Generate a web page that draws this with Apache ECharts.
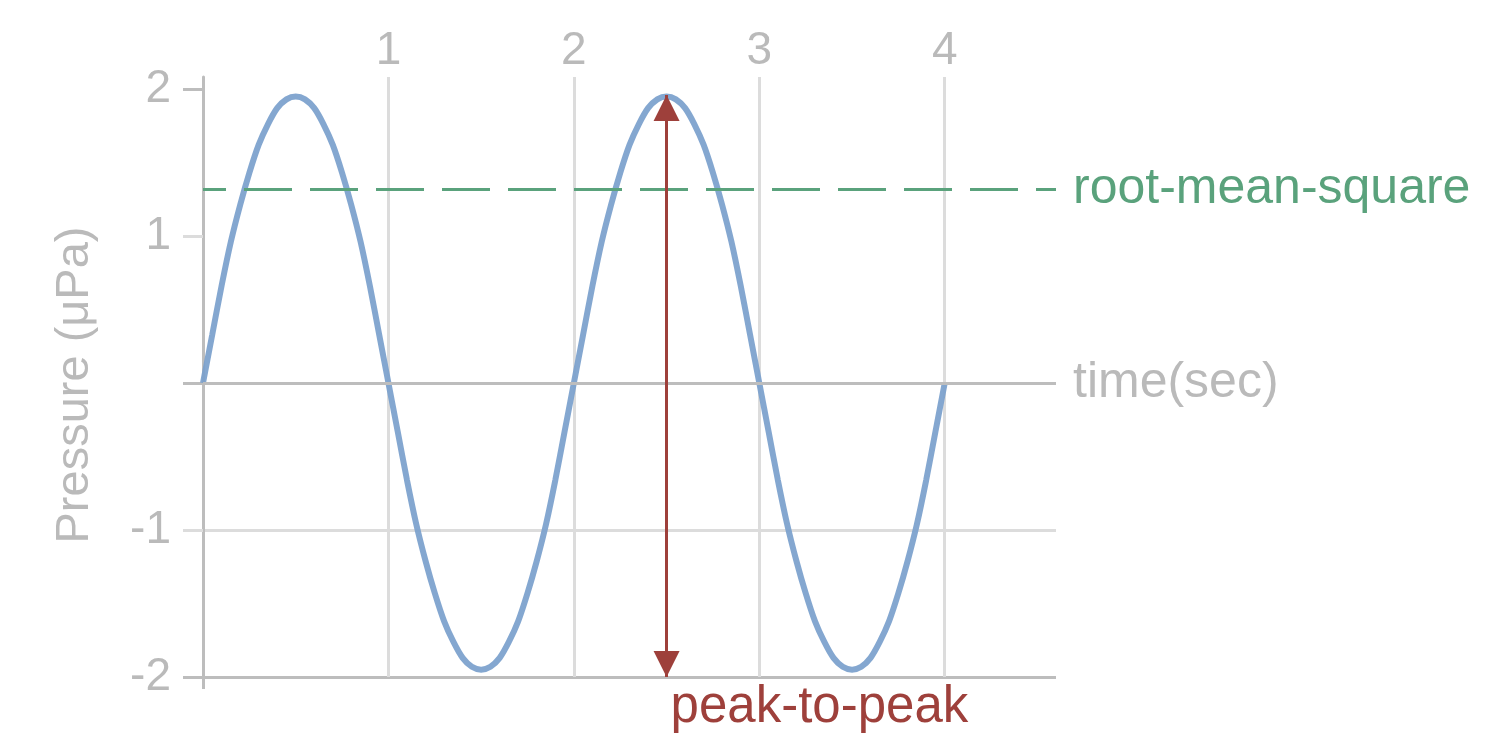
<!DOCTYPE html>
<html>
<head>
<meta charset="utf-8">
<script src="https://cdn.jsdelivr.net/npm/echarts@6/dist/echarts.min.js"></script>
<style>
  html, body { margin: 0; padding: 0; background: #ffffff; }
  #chart { width: 1500px; height: 755px; }
</style>
</head>
<body>
<div id="chart"></div>
<script>
// ---- data ----
const timeSec = [0, 0.05, 0.1, 0.15, 0.2, 0.25, 0.3, 0.35, 0.4, 0.45,
                 0.5, 0.55, 0.6, 0.65, 0.7, 0.75, 0.8, 0.85, 0.9, 0.95,
                 1.0, 1.05, 1.1, 1.15, 1.2, 1.25, 1.3, 1.35, 1.4, 1.45,
                 1.5, 1.55, 1.6, 1.65, 1.7, 1.75, 1.8, 1.85, 1.9, 1.95,
                 2.0, 2.05, 2.1, 2.15, 2.2, 2.25, 2.3, 2.35, 2.4, 2.45,
                 2.5, 2.55, 2.6, 2.65, 2.7, 2.75, 2.8, 2.85, 2.9, 2.95,
                 3.0, 3.05, 3.1, 3.15, 3.2, 3.25, 3.3, 3.35, 3.4, 3.45,
                 3.5, 3.55, 3.6, 3.65, 3.7, 3.75, 3.8, 3.85, 3.9, 3.95, 4.0];
const pressure = [0, 0.33, 0.66, 0.96, 1.21, 1.43, 1.62, 1.76, 1.87, 1.93,
                  1.95, 1.93, 1.87, 1.76, 1.62, 1.43, 1.21, 0.96, 0.66, 0.33,
                  0, -0.33, -0.66, -0.96, -1.21, -1.43, -1.62, -1.76, -1.87, -1.93,
                  -1.95, -1.93, -1.87, -1.76, -1.62, -1.43, -1.21, -0.96, -0.66, -0.33,
                  0, 0.33, 0.66, 0.96, 1.21, 1.43, 1.62, 1.76, 1.87, 1.93,
                  1.95, 1.93, 1.87, 1.76, 1.62, 1.43, 1.21, 0.96, 0.66, 0.33,
                  0, -0.33, -0.66, -0.96, -1.21, -1.43, -1.62, -1.76, -1.87, -1.93,
                  -1.95, -1.93, -1.87, -1.76, -1.62, -1.43, -1.21, -0.96, -0.66, -0.33, 0];
const xTickValues = [1, 2, 3, 4];
const yTickValues = [-2, -1, 1, 2];
const yMajorLines = [-2, 0, 2];
const yMinorLines = [-1, 1];
const rmsValue = 1.32;
const peakTime = 2.5;
const peakTop = 1.96;
const peakBottom = -2;
const labels = {
  yName: 'Pressure (μPa)',
  rms: 'root-mean-square',
  time: 'time(sec)',
  p2p: 'peak-to-peak'
};

// ---- styling ----
const FONT = "'Liberation Sans', Helvetica, Arial, sans-serif";
const GRAY_TEXT = '#bababa';
const DARK_LINE = '#bdbdbd';
const LIGHT_LINE = '#dcdcdc';
const BLUE = '#7a9fcc';
const GREEN = '#5aa27c';
const RED = '#9e403b';

const X_MIN = 0, X_MAX = 4.6, Y_MIN = -2, Y_MAX = 2.082;

const chart = echarts.init(document.getElementById('chart'), null, { renderer: 'canvas' });

const option = {
  animation: false,
  backgroundColor: '#ffffff',
  textStyle: { fontFamily: FONT },
  grid: { left: 203, right: 444, top: 77, bottom: 78, containLabel: false, outerBoundsMode: 'none' },
  xAxis: [
    {
      type: 'value', position: 'top', min: X_MIN, max: X_MAX, interval: 1,
      axisLine: { show: false, onZero: false },
      axisTick: { show: false },
      axisLabel: {
        customValues: xTickValues, color: GRAY_TEXT, fontSize: 46, fontFamily: FONT, margin: 3
      },
      splitLine: { show: true, showMinLine: false, showMaxLine: false,
                   lineStyle: { color: LIGHT_LINE, width: 3 } }
    },
    {
      type: 'value', position: 'bottom', min: X_MIN, max: X_MAX, interval: 1,
      axisLine: { show: false, onZero: false },
      axisTick: { show: true, customValues: [X_MIN], length: 12,
                  lineStyle: { color: DARK_LINE, width: 3 } },
      axisLabel: { show: false },
      splitLine: { show: false }
    }
  ],
  yAxis: [
    {
      type: 'value', min: Y_MIN, max: Y_MAX, interval: 1,
      name: labels.yName, nameLocation: 'middle', nameGap: 104, nameRotate: 90,
      nameTextStyle: { color: GRAY_TEXT, fontSize: 47, fontFamily: FONT, padding: [0, 16, 0, 0] },
      axisLine: { show: true, onZero: false, lineStyle: { color: DARK_LINE, width: 3 } },
      axisTick: { show: true, customValues: yMinorLines, length: 20,
                  lineStyle: { color: LIGHT_LINE, width: 3 } },
      axisLabel: { customValues: yTickValues, color: GRAY_TEXT, fontSize: 46, fontFamily: FONT, margin: 32 },
      splitLine: { show: true, showMaxLine: false, lineStyle: { color: LIGHT_LINE, width: 3 } }
    },
    {
      type: 'value', min: Y_MIN, max: Y_MAX, interval: 2, position: 'left', offset: 0,
      axisLine: { show: false },
      axisTick: { show: true, customValues: yMajorLines, length: 20,
                  lineStyle: { color: DARK_LINE, width: 3 } },
      axisLabel: { show: false },
      splitLine: { show: true, showMaxLine: false, lineStyle: { color: DARK_LINE, width: 3 } }
    }
  ],
  series: [
    {
      type: 'line',
      xAxisIndex: 0, yAxisIndex: 0,
      data: timeSec.map((t, i) => [t, pressure[i]]),
      smooth: 0.3,
      showSymbol: false,
      silent: true,
      lineStyle: { color: BLUE, width: 6, opacity: 0.92 },
      markLine: {
        silent: true,
        symbol: 'none',
        data: [
          {
            yAxis: 0,
            lineStyle: { color: DARK_LINE, width: 3, type: 'solid' },
            label: { show: true, position: 'end', distance: 17, formatter: labels.time,
                     color: GRAY_TEXT, fontSize: 50, fontFamily: FONT }
          },
          {
            yAxis: rmsValue,
            lineStyle: { color: GREEN, width: 3, type: [48, 18], dashOffset: 25 },
            label: { show: true, position: 'end', distance: 17, formatter: labels.rms,
                     color: GREEN, fontSize: 50, fontFamily: FONT }
          }
        ]
      }
    },
    {
      type: 'line',
      xAxisIndex: 0, yAxisIndex: 0,
      data: [],
      silent: true,
      markLine: {
        silent: true,
        symbol: ['triangle', 'triangle'],
        symbolSize: [26, 26],
        symbolOffset: [[0, 13], [0, 13]],
        lineStyle: { color: RED, width: 3, type: 'solid' },
        itemStyle: { color: RED },
        label: { show: false },
        data: [[{ coord: [peakTime, peakBottom] }, { coord: [peakTime, peakTop] }]]
      },
      markPoint: {
        silent: true,
        symbol: 'circle',
        symbolSize: 0,
        itemStyle: { color: 'rgba(0,0,0,0)' },
        label: { show: true, position: 'right', distance: 0, offset: [4, 31],
                 formatter: labels.p2p, color: RED, fontSize: 51, fontFamily: FONT },
        data: [{ coord: [peakTime, peakBottom] }]
      }
    }
  ]
};

chart.setOption(option);
</script>
</body>
</html>
